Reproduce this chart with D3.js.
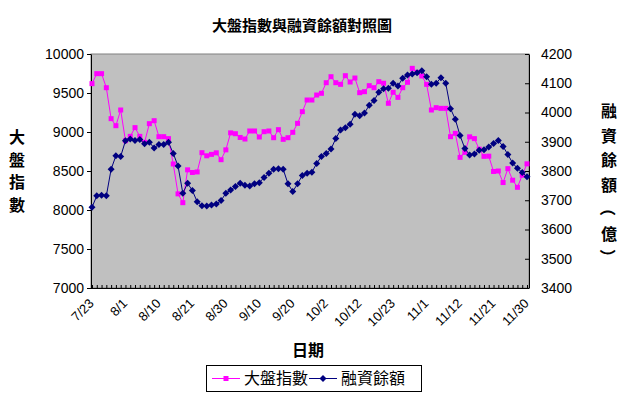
<!DOCTYPE html>
<html><head><meta charset="utf-8">
<script src="https://cdn.jsdelivr.net/npm/d3@7"></script>
<style>body{margin:0;background:#fff}</style>
</head><body>
<svg id="chart" width="627" height="398"></svg>
<script>
const dates = ["7/23","7/24","7/25","7/26","7/27","7/30","7/31",
"8/1","8/2","8/3","8/6","8/7","8/8","8/9","8/10","8/13","8/14","8/15","8/16","8/17","8/20","8/21",
"8/22","8/23","8/24","8/27","8/28","8/29","8/30","8/31",
"9/3","9/4","9/5","9/6","9/7","9/10","9/11","9/12","9/13","9/14","9/17","9/19","9/20",
"9/21","9/24","9/26","9/27","9/28","10/1","10/2",
"10/3","10/4","10/5","10/8","10/9","10/11","10/12","10/15","10/16","10/17","10/18","10/19","10/22","10/23",
"10/24","10/25","10/26","10/29","10/30","10/31","11/1",
"11/2","11/5","11/6","11/7","11/8","11/9","11/12","11/13","11/14","11/15","11/16","11/19","11/20","11/21",
"11/22","11/23","11/26","11/27","11/28","11/29","11/30"];

const indexValues = [9620,9748,9748,9568,9171,9081,9282,8889,8944,9056,
8944,8868,9107,9145,8940,8940,8915,8590,8207,8094,
8515,8481,8488,8735,8695,8713,8733,8645,8771,8989,
8978,8930,8910,9013,9013,8936,9004,9013,8927,9030,
8906,8927,8996,9111,9261,9410,9410,9474,9496,9632,
9709,9632,9611,9722,9641,9692,9504,9517,9594,9568,
9645,9625,9368,9509,9444,9568,9637,9816,9765,9718,
9611,9282,9312,9303,9303,8940,8983,8675,8739,8938,
8915,8780,8688,8690,8494,8500,8352,8530,8382,8291,
8446,8592];

const marginValues = [3676,3715,3717,3715,3806,3852,3850,3903,3909,3904,
3908,3893,3898,3879,3891,3891,3898,3860,3817,3724,
3758,3733,3695,3681,3680,3684,3687,3699,3724,3735,
3747,3758,3751,3749,3756,3760,3778,3792,3806,3808,
3806,3756,3730,3756,3785,3792,3796,3826,3850,3860,
3875,3911,3940,3948,3960,3994,3989,3998,4025,4041,
4069,4081,4083,4100,4091,4117,4128,4132,4136,4143,
4122,4097,4100,4119,4100,4013,3977,3921,3877,3855,
3858,3871,3873,3882,3894,3904,3884,3856,3827,3809,
3795,3780];

const leftTicks = [7000,7500,8000,8500,9000,9500,10000];
const rightTicks = [3400,3500,3600,3700,3800,3900,4000,4100,4200];
const labelEvery = 7;
const titleText = "大盤指數與融資餘額對照圖";
const leftTitle = ["大","盤","指","數"];
const rightTitle = ["融","資","餘","額","（","億","）"];
const xTitle = "日期";
const seriesNames = ["大盤指數","融資餘額"];

const svg = d3.select("#chart");
const numFont = "'Liberation Sans', Arial, sans-serif";
const cjkFont = "'Noto Sans CJK TC', 'Noto Sans CJK SC', sans-serif";
const P = {l:91, r:529, t:54, b:288};

svg.append("rect").attr("width",627).attr("height",398).attr("fill","#fff");

const x = d3.scalePoint().domain(dates).range([92, 527]);
const yL = d3.scaleLinear().domain([7000,10000]).range([P.b, P.t]);
const yR = d3.scaleLinear().domain([3400,4200]).range([P.b, P.t]);

// plot area
svg.append("rect").attr("x",P.l).attr("y",P.t).attr("width",P.r-P.l).attr("height",P.b-P.t)
  .attr("fill","#C0C0C0").attr("stroke","#808080").attr("stroke-width",1);

// left axis
const gL = svg.append("g").attr("transform",`translate(${P.l},0)`)
  .call(d3.axisLeft(yL).tickValues(leftTicks).tickSize(4).tickSizeOuter(0).tickPadding(3).tickFormat(d3.format("d")));
// right axis
const gR = svg.append("g").attr("transform",`translate(${P.r},0)`)
  .call(d3.axisRight(yR).tickValues(rightTicks).tickSize(-4).tickSizeOuter(0).tickPadding(12).tickFormat(d3.format("d")));
// bottom axis
const gB = svg.append("g").attr("transform",`translate(0,${P.b})`)
  .call(d3.axisBottom(x).tickSize(-3).tickSizeOuter(0).tickPadding(0)
    .tickFormat((d,i)=> i % labelEvery === 0 ? d : ""));
gB.select(".domain").attr("d",`M${P.l},0.5H${P.r}`);

[gL,gR,gB].forEach(g=>{
  g.select(".domain").attr("stroke","#000").attr("stroke-width",1);
  g.selectAll(".tick line").attr("stroke","#000");
  g.selectAll("text").attr("font-family",numFont).attr("fill","#000");
});
gL.selectAll("text").attr("font-size",14);
gR.selectAll("text").attr("font-size",14);
gB.selectAll(".tick text").attr("font-size",13)
  .attr("text-anchor","end").attr("dy","0.35em")
  .attr("transform","translate(-1,13) rotate(-45)");

// lines
const lineL = d3.line().x((d,i)=>x(dates[i])).y(d=>yL(d));
const lineR = d3.line().x((d,i)=>x(dates[i])).y(d=>yR(d));
const pink = "#FF00FF", navy = "#000080";

svg.append("path").datum(indexValues).attr("d",lineL).attr("fill","none").attr("stroke",pink).attr("stroke-width",1);
svg.append("g").selectAll("rect").data(indexValues).join("rect")
  .attr("x",(d,i)=>x(dates[i])-2.5).attr("y",d=>yL(d)-2.5).attr("width",5).attr("height",5).attr("fill",pink);

svg.append("path").datum(marginValues).attr("d",lineR).attr("fill","none").attr("stroke",navy).attr("stroke-width",1);
const diamond = "M0,-3.5L3.5,0L0,3.5L-3.5,0Z";
svg.append("g").selectAll("path").data(marginValues).join("path")
  .attr("d",diamond).attr("transform",(d,i)=>`translate(${x(dates[i])},${yR(d)})`).attr("fill",navy);

// titles
svg.append("text").attr("x",302).attr("y",31).attr("text-anchor","middle")
  .attr("font-family",cjkFont).attr("font-weight","bold").attr("font-size",15).text(titleText);

svg.append("g").selectAll("text").data(leftTitle).join("text")
  .attr("x",17).attr("y",(d,i)=>143+i*22.5).attr("text-anchor","middle")
  .attr("font-family",cjkFont).attr("font-weight","bold").attr("font-size",16).text(d=>d);

svg.append("g").selectAll("text").data(rightTitle).join("text")
  .attr("text-anchor","middle").attr("dominant-baseline","central")
  .attr("transform",(d,i)=>{const cy=110+i*24.5; return (d==="（"||d==="）")?`translate(609,${cy}) rotate(90)`:`translate(609,${cy})`;})
  .attr("font-family",cjkFont).attr("font-weight","bold").attr("font-size",16).text(d=>d);

svg.append("text").attr("x",308).attr("y",356).attr("text-anchor","middle")
  .attr("font-family",cjkFont).attr("font-weight","bold").attr("font-size",16).text(xTitle);

// legend
const lg = svg.append("g");
lg.append("rect").attr("x",206.5).attr("y",365.5).attr("width",215).attr("height",26)
  .attr("fill","#fff").attr("stroke","#000");
const items = [{name:seriesNames[0],color:pink,shape:"square",x0:212},{name:seriesNames[1],color:navy,shape:"diamond",x0:309}];
items.forEach(it=>{
  lg.append("line").attr("x1",it.x0).attr("x2",it.x0+28).attr("y1",378.5).attr("y2",378.5).attr("stroke",it.color);
  if(it.shape==="square") lg.append("rect").attr("x",it.x0+14-2.5).attr("y",376).attr("width",5).attr("height",5).attr("fill",it.color);
  else lg.append("path").attr("d",diamond).attr("transform",`translate(${it.x0+14},378.5)`).attr("fill",it.color);
  lg.append("text").attr("x",it.x0+32).attr("y",384).attr("font-family",cjkFont).attr("font-size",16).text(it.name);
});
</script>
</body></html>
